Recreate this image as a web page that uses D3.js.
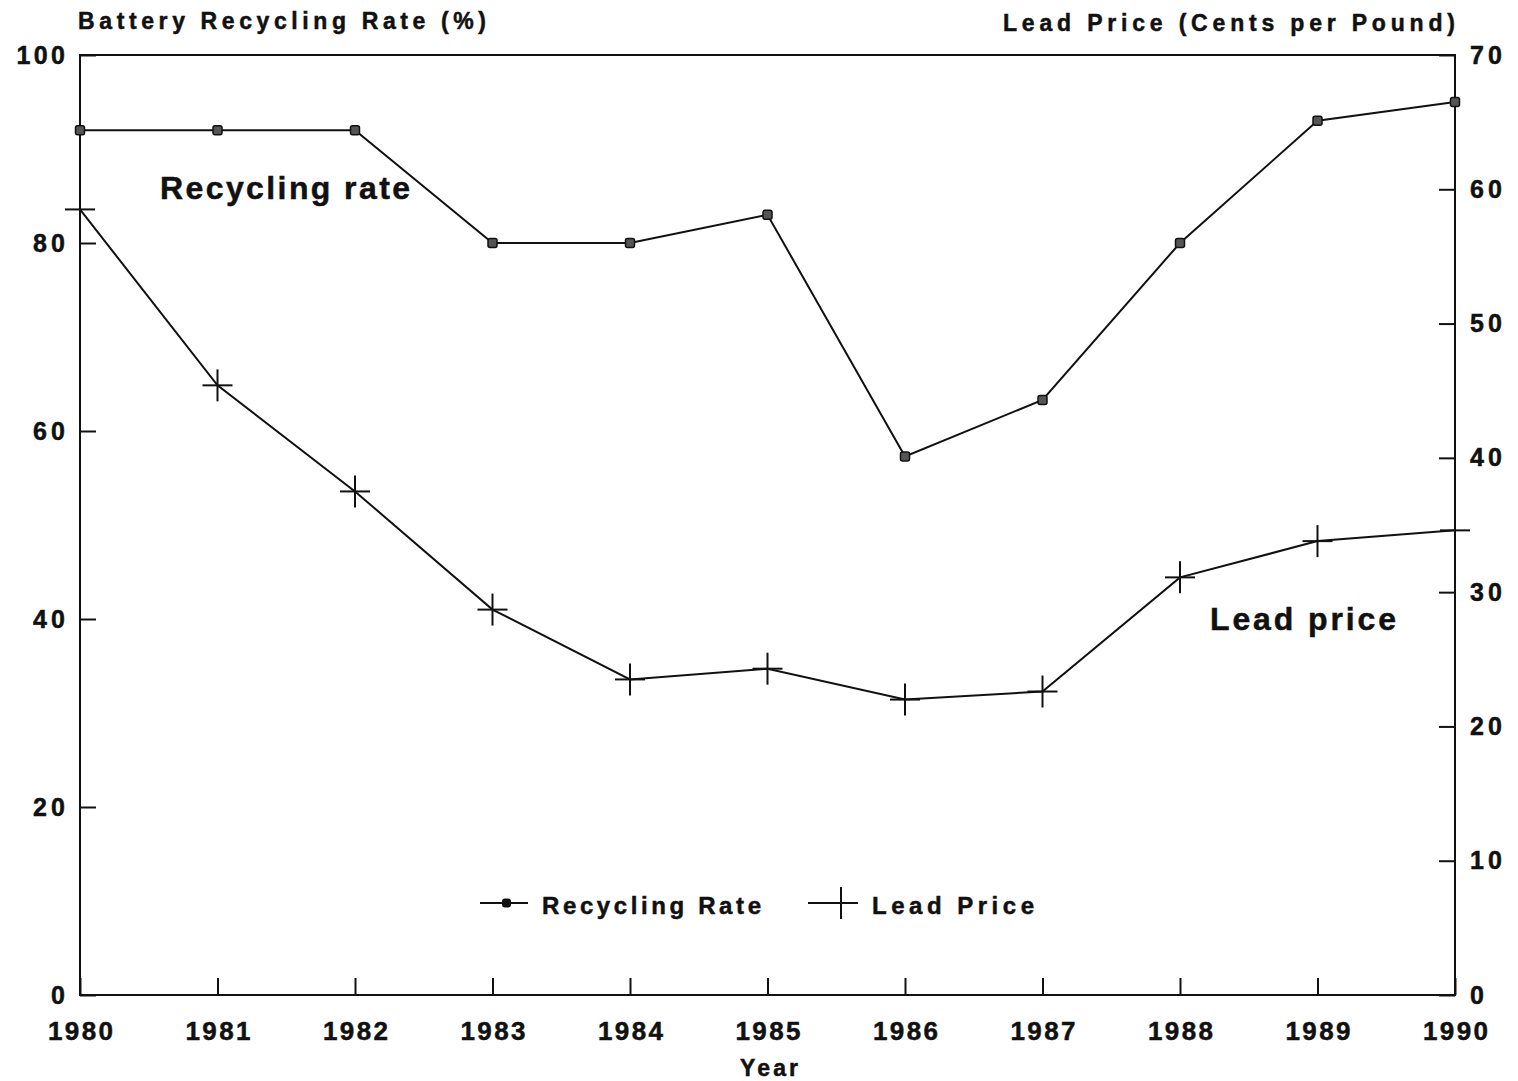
<!DOCTYPE html>
<html>
<head>
<meta charset="utf-8">
<script src="https://cdn.jsdelivr.net/npm/d3@7"></script>
<style>
  html, body { margin: 0; padding: 0; background: #fff; overflow: hidden; }
  svg { display: block; }
  text { font-family: "Liberation Sans", Arial, sans-serif; font-weight: bold; fill: #111; stroke: #111; stroke-width: 0.5px; }
</style>
</head>
<body>
<div id="chart"></div>
<script>
const years = [1980, 1981, 1982, 1983, 1984, 1985, 1986, 1987, 1988, 1989, 1990];
const recyclingRate = [92, 92, 92, 80, 80, 83, 57.3, 63.3, 80, 93, 95];
const leadPrice = [58.5, 45.4, 37.5, 28.7, 23.5, 24.3, 22, 22.6, 31.1, 33.8, 34.6];
const leftTicks = [0, 20, 40, 60, 80, 100];
const rightTicks = [0, 10, 20, 30, 40, 50, 60, 70];

const width = 1518;
const height = 1081;
const margin = { top: 55, right: 63, bottom: 86, left: 80 };
const innerWidth = width - margin.left - margin.right;
const innerHeight = height - margin.top - margin.bottom;

const svg = d3
  .select("#chart")
  .append("svg")
  .attr("width", width)
  .attr("height", height);

const g = svg.append("g").attr("transform", `translate(${margin.left},${margin.top})`);

const x = d3.scaleLinear().domain([1980, 1990]).range([0, innerWidth]);
const yLeft = d3.scaleLinear().domain([0, 100]).range([innerHeight, 0]);
const yRight = d3.scaleLinear().domain([0, 70]).range([innerHeight, 0]);

// spread digits a bit like the typewriter-ish original
const digitWidth = (d) => String(d).length * 16.5 - 1;

// frame
g.append("rect")
  .attr("width", innerWidth)
  .attr("height", innerHeight)
  .attr("fill", "none")
  .attr("stroke", "#111")
  .attr("stroke-width", 2);

// x axis: ticks point up, labels below
const xAxis = g
  .append("g")
  .attr("transform", `translate(0,${innerHeight})`)
  .call(d3.axisBottom(x).tickValues(years).tickFormat(d3.format("d")).tickSizeInner(-17).tickSizeOuter(0).tickPadding(0));
xAxis.select(".domain").remove();
xAxis.selectAll("line").attr("stroke", "#111").attr("stroke-width", 2);
xAxis.selectAll("text")
  .attr("y", 45).attr("dy", null)
  .attr("textLength", digitWidth).attr("lengthAdjust", "spacing")
  .style("font-size", "26px");

// left axis
const yl = g
  .append("g")
  .call(d3.axisLeft(yLeft).tickValues(leftTicks).tickSizeInner(-16).tickSizeOuter(0).tickPadding(15));
yl.select(".domain").remove();
yl.selectAll("line").attr("stroke", "#111").attr("stroke-width", 2);
yl.selectAll("text")
  .attr("textLength", digitWidth).attr("lengthAdjust", "spacing")
  .style("font-size", "25px");

// right axis
const yr = g
  .append("g")
  .attr("transform", `translate(${innerWidth},0)`)
  .call(d3.axisRight(yRight).tickValues(rightTicks).tickSizeInner(-16).tickSizeOuter(0).tickPadding(15));
yr.select(".domain").remove();
yr.selectAll("line").attr("stroke", "#111").attr("stroke-width", 2);
yr.selectAll("text")
  .attr("textLength", digitWidth).attr("lengthAdjust", "spacing")
  .style("font-size", "25px");

// axis titles
svg.append("text")
  .attr("x", 78).attr("y", 29)
  .attr("textLength", 408).attr("lengthAdjust", "spacing")
  .style("font-size", "23px")
  .text("Battery Recycling Rate (%)");
svg.append("text")
  .attr("x", 1003).attr("y", 31)
  .attr("textLength", 452).attr("lengthAdjust", "spacing")
  .style("font-size", "23px")
  .text("Lead Price (Cents per Pound)");
svg.append("text")
  .attr("x", 740).attr("y", 1076)
  .attr("textLength", 58).attr("lengthAdjust", "spacing")
  .style("font-size", "23px")
  .text("Year");

// recycling rate line
const rateLine = d3.line()
  .x((d, i) => x(years[i]))
  .y((d) => yLeft(d));
g.append("path")
  .datum(recyclingRate)
  .attr("d", rateLine)
  .attr("fill", "none")
  .attr("stroke", "#111")
  .attr("stroke-width", 2);
g.selectAll(".rate-pt")
  .data(recyclingRate)
  .enter()
  .append("rect")
  .attr("class", "rate-pt")
  .attr("x", (d, i) => x(years[i]) - 4.5)
  .attr("y", (d) => yLeft(d) - 4.5)
  .attr("width", 9)
  .attr("height", 9)
  .attr("rx", 2)
  .attr("fill", "#555")
  .attr("stroke", "#111")
  .attr("stroke-width", 1.5);

// lead price line
const priceLine = d3.line()
  .x((d, i) => x(years[i]))
  .y((d) => yRight(d));
g.append("path")
  .datum(leadPrice)
  .attr("d", priceLine)
  .attr("fill", "none")
  .attr("stroke", "#111")
  .attr("stroke-width", 2);
const cross = g.selectAll(".price-pt")
  .data(leadPrice)
  .enter()
  .append("g")
  .attr("class", "price-pt")
  .attr("transform", (d, i) => `translate(${x(years[i])},${yRight(d)})`);
cross.append("line").attr("x1", -15).attr("x2", 15).attr("stroke", "#111").attr("stroke-width", 2);
cross.append("line").attr("y1", -16).attr("y2", 16).attr("stroke", "#111").attr("stroke-width", 2);

// annotations
svg.append("text")
  .attr("x", 160).attr("y", 199)
  .attr("textLength", 250).attr("lengthAdjust", "spacing")
  .style("font-size", "32px")
  .text("Recycling rate");
svg.append("text")
  .attr("x", 1210).attr("y", 630)
  .attr("textLength", 186).attr("lengthAdjust", "spacing")
  .style("font-size", "32px")
  .text("Lead price");

// legend
const legend = svg.append("g").attr("transform", "translate(480,903)");
legend.append("line").attr("x1", 0).attr("x2", 48).attr("stroke", "#111").attr("stroke-width", 2);
legend.append("rect").attr("x", 22).attr("y", -4.5).attr("width", 9).attr("height", 9).attr("rx", 3).attr("fill", "#111");
legend.append("text").attr("x", 62).attr("y", 11)
  .attr("textLength", 219).attr("lengthAdjust", "spacing")
  .style("font-size", "24px").text("Recycling Rate");
legend.append("line").attr("x1", 328).attr("x2", 378).attr("stroke", "#111").attr("stroke-width", 2);
legend.append("line").attr("x1", 361).attr("x2", 361).attr("y1", -16).attr("y2", 16).attr("stroke", "#111").attr("stroke-width", 2);
legend.append("text").attr("x", 392).attr("y", 11)
  .attr("textLength", 162).attr("lengthAdjust", "spacing")
  .style("font-size", "24px").text("Lead Price");
</script>
</body>
</html>
